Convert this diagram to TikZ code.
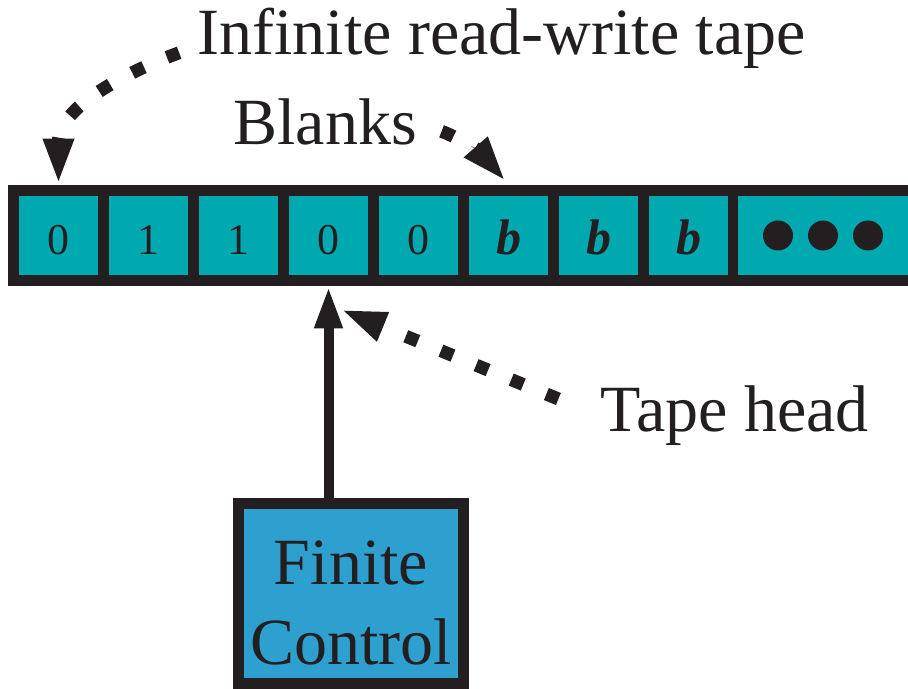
\documentclass[tikz,border=0pt]{standalone}
\usepackage{fontspec}
\setmainfont{Liberation Serif}
\usetikzlibrary{arrows.meta}
\usetikzlibrary{calc}
\definecolor{tapefill}{RGB}{0,168,176}
\definecolor{ctrlfill}{RGB}{46,160,208}
\definecolor{ink}{RGB}{35,31,32}

\begin{document}
\begin{tikzpicture}[x=0.5pt,y=0.5pt,
  cell/.style={fill=tapefill,minimum size=39.5pt,inner sep=0pt,text height=19.5pt,text depth=0pt,text=ink,font=\fontsize{22pt}{24pt}\selectfont},
  blank/.style={cell,font=\fontsize{25pt}{27pt}\selectfont\bfseries\itshape},
  lbl/.style={anchor=base west,inner sep=0pt,text=ink,font=\fontsize{33pt}{40pt}\selectfont},
  pointer/.style={ink,line width=6.5pt,dash pattern=on 6.5pt off 12.5pt,-{Triangle[length=23pt,width=14pt]}}]
\useasboundingbox (0,0) rectangle (908,689);
\node[fill=ink,minimum width=450pt,minimum height=50.5pt,inner sep=0pt] (tape) at (458,453.5) {};
\node[cell] (c0) at (58.5,453.5) {0};
\node[cell] (c1) at (148.5,453.5) {1};
\node[cell] (c2) at (238.5,453.5) {1};
\node[cell] (c3) at (328.5,453.5) {0};
\node[cell] (c4) at (418.5,453.5) {0};
\node[blank] (c5) at (508.5,453.5) {b};
\node[blank] (c6) at (598.5,453.5) {b};
\node[blank] (c7) at (688.5,453.5) {b};
\node[fill=tapefill,minimum width=85pt,minimum height=39.5pt,inner sep=0pt] (more) at (823,453.5) {};
\fill[ink] ([xshift=-22.5pt]more.center) circle[radius=7.5pt] (more.center) circle[radius=7.5pt] ([xshift=22.5pt]more.center) circle[radius=7.5pt];

\node[lbl] (infinite) at (197,634) {Infinite read-write tape};
\node[lbl] (blanks) at (233,544) {Blanks};
\node[lbl] (head) at (600,257) {Tape head};
\node[draw=ink,line width=5.5pt,fill=ctrlfill,minimum width=112.5pt,minimum height=90pt,inner sep=0pt,align=center,text=ink,font=\fontsize{33pt}{40pt}\selectfont] (ctrl) at (351,95.5) {\rule{0pt}{31.5pt}Finite\\Control};

\draw[ink,line width=5pt,-{Triangle[length=21pt,width=13pt]}] (c3 |- ctrl.north) -- (c3 |- tape.south);
\draw[pointer,shorten <=9.5pt] ([yshift=-3.75pt]infinite.west) to[out=200,in=90] (c0 |- tape.north);
\draw[pointer,shorten <=13pt,shorten >=2pt] (blanks.east) to[out=-20,in=131] (c5 |- tape.north);
\coordinate (headtip) at ($(c3 |- tape.south)+(6pt,-11.5pt)$);
\draw[pointer,shorten <=22.5pt] (head.west) -- (headtip);
\end{tikzpicture}
\end{document}
